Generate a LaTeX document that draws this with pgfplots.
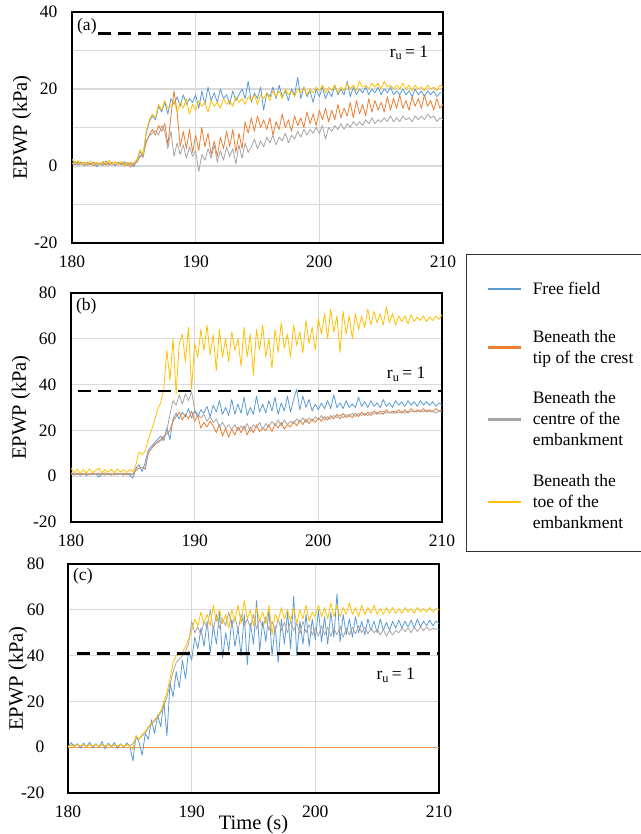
\documentclass[border=0pt]{standalone}
\usepackage{pgfplots}
\pgfplotsset{compat=1.18}
\usepackage{pgfplotstable}
\usepackage{fontspec}
\setmainfont{Liberation Serif}
\definecolor{cblue}{HTML}{5B9BD5}
\definecolor{corange}{HTML}{ED7D31}
\definecolor{cgray}{HTML}{A5A5A5}
\definecolor{cyellow}{HTML}{FFC000}
\definecolor{gridgray}{HTML}{D9D9D9}
\newcommand{\tickfont}{\fontsize{17.5}{21}\selectfont}
\newcommand{\labfont}{\fontsize{20.5}{24}\selectfont}

\pgfplotstableread{
t b o g y
180.00 0.5 0.8 0.6 1.8
180.25 1.2 0.3 0.9 0.6
180.50 0.2 1.0 0.4 1.4
180.75 0.9 0.5 1.1 0.3
181.00 0.1 0.9 0.2 1.1
181.25 1.0 0.2 0.8 0.4
181.50 0.3 0.7 0.3 1.3
181.75 1.1 0.1 0.9 0.5
182.00 -0.2 0.8 0.2 1.0
182.25 0.8 0.4 0.7 0.2
182.50 0.4 1.1 0.1 1.2
182.75 1.3 0.2 0.8 0.6
183.00 0.2 0.9 0.3 1.5
183.25 0.9 0.3 1.0 0.3
183.50 0.0 1.0 0.2 1.1
183.75 1.0 0.4 0.9 0.5
184.00 0.3 0.8 0.3 1.2
184.25 1.1 0.0 0.8 0.2
184.50 0.2 0.9 0.4 1.0
184.75 0.8 -0.3 1.0 0.4
185.00 -0.2 0.6 0.3 0.9
185.25 1.5 1.0 1.2 1.6
185.50 3.8 2.5 2.8 4.2
185.75 2.5 3.2 2.2 3.0
186.00 8.5 6.0 6.5 9.0
186.25 11.5 8.0 7.8 12.0
186.50 13.0 9.5 8.5 13.5
186.75 12.0 8.0 9.2 12.5
187.00 15.5 10.5 8.0 16.0
187.25 14.0 9.0 10.5 14.5
187.50 16.5 11.0 9.0 17.0
187.75 13.5 5.5 4.5 15.0
188.00 17.5 13.0 9.0 15.5
188.25 16.0 19.5 2.5 17.0
188.50 18.0 14.0 6.0 14.0
188.75 15.5 5.0 3.0 16.5
189.00 18.5 9.0 5.5 15.0
189.25 16.0 4.5 2.0 17.5
189.50 17.5 9.5 5.0 13.5
189.75 16.5 3.5 2.5 16.0
190.00 18.5 8.0 4.0 14.5
190.25 15.0 4.0 -1.5 17.0
190.50 19.5 10.0 3.0 15.5
190.75 16.0 5.0 1.5 16.5
191.00 20.5 8.5 4.5 14.0
191.25 17.0 3.0 2.0 17.0
191.50 19.0 6.5 5.5 15.5
191.75 16.5 2.5 1.0 16.5
192.00 20.0 7.5 4.0 15.0
192.25 17.5 4.5 1.5 17.5
192.50 18.5 9.0 5.0 16.0
192.75 16.0 5.0 2.5 17.0
193.00 19.5 9.5 4.5 15.5
193.25 17.0 3.5 0.5 18.0
193.50 18.5 8.5 5.5 16.5
193.75 20.0 4.5 2.0 17.5
194.00 17.5 11.5 6.0 16.0
194.25 22.0 8.5 3.5 18.0
194.50 16.5 12.5 5.0 17.0
194.75 19.0 9.0 7.0 18.5
195.00 17.5 13.0 4.5 16.0
195.25 20.5 10.0 6.5 18.5
195.50 14.5 12.0 5.0 17.5
195.75 19.0 9.5 7.5 19.0
196.00 18.0 12.5 6.0 17.0
196.25 20.5 8.0 8.0 19.5
196.50 17.5 11.5 5.5 18.0
196.75 21.0 9.5 7.5 19.5
197.00 18.0 13.5 6.5 17.5
197.25 19.5 10.0 8.5 20.0
197.50 17.0 12.0 6.0 18.5
197.75 20.0 9.0 8.0 19.5
198.00 18.5 13.0 7.0 18.0
198.25 23.0 10.5 9.0 20.0
198.50 17.5 12.5 7.5 19.0
198.75 20.5 10.0 9.5 20.5
199.00 18.0 14.0 8.0 18.5
199.25 19.5 11.0 9.5 20.0
199.50 16.5 13.5 8.5 19.0
199.75 20.0 10.5 10.0 20.5
200.00 18.0 14.5 8.5 19.5
200.25 20.5 12.0 10.5 21.0
200.50 17.5 15.0 7.0 19.0
200.75 19.5 11.5 10.0 20.5
201.00 18.0 14.5 9.0 19.5
201.25 21.0 12.0 10.5 21.0
201.50 18.5 16.0 9.5 19.0
201.75 20.0 12.5 11.0 20.5
202.00 18.5 15.0 9.5 19.5
202.25 22.0 13.0 11.0 21.5
202.50 18.0 16.5 10.0 20.0
202.75 20.5 12.5 11.5 21.0
203.00 18.5 17.0 10.5 19.5
203.25 20.0 13.5 11.5 22.0
203.50 19.0 16.0 10.5 20.5
203.75 20.5 13.0 12.0 21.0
204.00 18.5 17.5 11.0 20.0
204.25 20.0 14.0 12.5 21.5
204.50 19.0 17.0 11.0 20.5
204.75 20.5 14.5 12.0 21.5
205.00 18.5 16.5 11.5 20.0
205.25 20.0 14.0 12.5 22.0
205.50 19.0 18.0 11.5 20.5
205.75 20.5 14.5 13.0 21.0
206.00 18.5 17.5 11.5 20.0
206.25 19.5 15.0 12.5 21.0
206.50 18.5 18.5 11.5 20.0
206.75 20.0 15.0 13.0 21.5
207.00 18.5 17.0 12.0 20.0
207.25 19.5 14.5 12.5 21.0
207.50 18.0 18.0 11.5 19.5
207.75 20.0 15.5 13.0 21.0
208.00 18.5 17.5 12.0 20.0
208.25 19.5 15.0 13.0 20.5
208.50 18.0 18.5 12.0 19.5
208.75 19.5 15.5 13.5 21.0
209.00 18.5 17.0 12.5 20.0
209.25 19.5 14.5 13.0 20.5
209.50 18.0 17.5 11.5 19.5
209.75 19.0 15.0 12.5 21.0
210.00 19.0 16.0 12.0 20.5
}\dataA

\pgfplotstableread{
t b o g y
180.00 1.0 1.5 1.2 3.5
180.25 0.5 1.0 0.8 1.5
180.50 1.2 0.6 1.4 3.0
180.75 0.4 1.3 0.5 1.2
181.00 1.0 0.7 1.2 2.8
181.25 0.3 1.2 0.6 1.4
181.50 1.1 0.5 1.3 3.2
181.75 0.6 1.4 0.7 1.6
182.00 1.2 0.8 1.1 2.5
182.25 -0.5 1.3 0.6 3.5
182.50 1.0 0.6 1.2 1.5
182.75 0.5 1.5 0.5 2.8
183.00 1.3 0.7 1.3 1.8
183.25 0.4 1.2 0.6 3.0
183.50 1.1 0.5 1.2 1.5
183.75 0.6 1.4 0.8 3.2
184.00 1.2 0.8 1.1 1.8
184.25 0.4 1.3 0.5 2.8
184.50 1.0 0.6 1.3 1.6
184.75 0.5 1.2 0.7 3.0
185.00 -0.8 0.7 1.0 2.0
185.25 3.5 2.5 3.0 5.0
185.50 5.0 3.5 3.5 10.5
185.75 2.0 4.0 3.8 9.5
186.00 6.0 3.0 3.5 11.0
186.25 11.5 10.0 10.5 16.0
186.50 13.0 12.0 12.0 20.0
186.75 14.5 13.5 14.0 24.0
187.00 16.0 15.0 14.5 29.0
187.25 17.5 16.0 15.5 32.0
187.50 15.5 17.5 16.5 38.0
187.75 21.0 18.5 20.0 55.0
188.00 16.0 20.0 27.0 42.0
188.25 25.0 24.0 33.0 60.0
188.50 27.5 26.0 31.0 36.0
188.75 25.0 28.0 35.5 58.0
189.00 28.0 24.5 31.5 62.0
189.25 26.0 27.0 36.0 50.0
189.50 29.5 25.0 33.0 65.0
189.75 25.5 28.5 37.0 38.0
190.00 28.5 24.0 29.0 58.0
190.25 26.0 26.5 27.0 52.0
190.50 29.0 21.0 25.5 64.0
190.75 27.5 23.5 27.0 55.0
191.00 30.5 21.5 24.0 66.0
191.25 26.0 24.0 26.0 53.0
191.50 31.0 22.0 23.5 62.0
191.75 28.0 19.0 25.0 46.0
192.00 33.0 22.5 21.5 64.0
192.25 27.0 17.5 23.5 52.0
192.50 30.0 21.0 21.0 60.0
192.75 26.5 17.0 22.5 50.0
193.00 33.5 20.5 20.5 63.0
193.25 27.0 18.0 22.5 55.0
193.50 31.5 21.5 20.0 60.0
193.75 27.5 19.0 22.0 48.0
194.00 34.5 22.0 20.5 65.0
194.25 26.5 18.0 23.0 52.0
194.50 30.0 21.5 19.5 62.0
194.75 27.0 19.0 22.5 44.0
195.00 35.0 22.5 21.0 64.0
195.25 28.0 19.5 23.5 55.0
195.50 31.5 21.0 20.5 66.0
195.75 27.5 20.0 23.0 52.0
196.00 33.0 22.5 21.5 60.0
196.25 28.5 19.5 24.0 47.0
196.50 34.5 23.0 22.0 64.0
196.75 27.0 21.0 24.5 54.0
197.00 32.0 23.5 22.0 67.0
197.25 28.5 20.5 24.5 56.0
197.50 35.0 22.5 22.5 62.0
197.75 28.0 21.5 24.0 52.0
198.00 33.5 24.0 23.0 66.0
198.25 38.0 22.0 25.0 57.0
198.50 29.0 24.5 23.5 63.0
198.75 35.0 22.5 25.5 54.0
199.00 30.0 25.0 23.5 68.0
199.25 33.5 23.0 25.5 58.0
199.50 28.5 25.0 24.0 65.0
199.75 31.5 23.5 26.0 55.0
200.00 29.0 25.5 24.5 69.0
200.25 32.0 24.0 26.5 62.0
200.50 29.5 26.0 24.5 71.0
200.75 33.0 24.5 26.0 60.0
201.00 29.5 26.5 25.0 73.0
201.25 35.5 25.0 26.5 63.0
201.50 30.0 27.0 25.5 70.0
201.75 32.0 25.0 27.0 54.0
202.00 29.5 27.5 25.5 72.0
202.25 33.0 25.5 27.0 62.0
202.50 30.0 27.0 26.0 70.0
202.75 31.5 25.5 27.5 60.0
203.00 30.0 27.5 26.0 71.0
203.25 34.5 26.0 27.5 64.0
203.50 30.5 28.0 26.5 70.0
203.75 32.5 26.5 27.5 65.0
204.00 30.0 28.0 26.5 73.0
204.25 33.0 26.5 28.0 66.0
204.50 30.5 28.5 27.0 72.0
204.75 32.0 27.0 28.0 67.0
205.00 30.0 28.5 27.0 71.0
205.25 33.5 27.0 28.5 66.0
205.50 30.5 29.0 27.5 74.0
205.75 32.0 27.5 28.0 67.0
206.00 30.0 28.5 27.5 71.0
206.25 33.0 27.5 28.5 66.0
206.50 31.0 29.0 27.5 70.0
206.75 32.5 27.5 28.5 67.5
207.00 30.5 29.0 27.5 70.0
207.25 33.0 27.5 28.5 66.5
207.50 31.0 29.5 28.0 70.5
207.75 32.5 28.0 28.5 67.5
208.00 30.5 29.0 28.0 69.5
208.25 33.0 28.0 29.0 68.0
208.50 31.0 29.5 28.0 70.0
208.75 32.5 28.0 29.0 67.5
209.00 31.0 29.0 28.0 69.5
209.25 32.5 28.0 28.5 68.0
209.50 30.5 29.5 27.5 70.0
209.75 32.0 28.5 28.5 68.5
210.00 31.0 29.0 28.0 70.5
}\dataB

\pgfplotstableread{
t b g y
180.00 0.0 0.5 0.2
180.25 2.0 1.0 1.0
180.50 0.5 0.4 0.3
180.75 1.5 1.2 1.2
181.00 -0.5 0.6 0.4
181.25 1.8 1.0 1.3
181.50 0.2 0.3 0.2
181.75 2.2 1.1 1.0
182.00 -0.3 0.5 0.5
182.25 1.5 1.2 1.4
182.50 0.0 0.4 0.3
182.75 2.5 1.0 1.1
183.00 -0.8 0.6 0.4
183.25 1.8 1.2 1.2
183.50 0.2 0.3 0.2
183.75 2.0 1.0 1.0
184.00 -0.5 0.5 0.4
184.25 1.5 1.1 1.3
184.50 0.0 0.4 0.3
184.75 1.8 1.0 1.2
185.00 0.5 0.8 0.5
185.25 -6.0 1.5 -1.0
185.50 5.0 4.0 5.0
185.75 2.0 3.5 3.5
186.00 -3.5 5.0 5.5
186.25 6.0 6.0 7.0
186.50 3.5 8.5 9.0
186.75 12.0 10.0 10.5
187.00 6.0 11.5 12.0
187.25 14.0 13.0 13.5
187.50 9.0 15.0 16.0
187.75 20.0 18.0 19.5
188.00 5.0 22.0 24.0
188.25 28.0 27.5 30.0
188.50 22.0 33.0 37.0
188.75 33.0 37.0 40.0
189.00 26.0 38.5 40.5
189.25 38.0 40.0 41.5
189.50 30.0 42.0 44.0
189.75 42.0 45.0 47.0
190.00 38.0 55.0 51.0
190.25 48.0 50.0 56.0
190.50 43.0 52.5 53.0
190.75 52.0 49.0 59.0
191.00 44.0 55.0 54.0
191.25 55.0 52.0 58.0
191.50 41.0 60.0 53.0
191.75 53.0 51.0 62.0
192.00 45.0 58.0 55.0
192.25 59.0 52.0 60.0
192.50 39.0 56.0 54.0
192.75 50.0 53.0 58.0
193.00 42.0 59.0 52.0
193.25 56.0 52.5 60.0
193.50 44.0 57.0 55.0
193.75 52.0 51.0 62.0
194.00 40.0 58.0 54.0
194.25 58.0 53.0 64.0
194.50 36.0 56.0 56.0
194.75 54.0 52.0 60.0
195.00 45.0 58.0 53.0
195.25 64.0 51.5 61.0
195.50 42.0 56.0 55.0
195.75 55.0 52.0 59.0
196.00 46.0 57.0 54.0
196.25 60.0 51.0 62.0
196.50 40.0 55.0 49.0
196.75 53.0 50.5 58.0
197.00 37.0 56.0 55.0
197.25 56.0 51.0 61.0
197.50 45.0 54.5 56.0
197.75 59.0 50.0 60.0
198.00 43.0 55.0 55.0
198.25 66.0 51.0 61.0
198.50 40.0 54.0 54.0
198.75 55.0 49.5 60.0
199.00 45.0 55.0 56.0
199.25 58.0 50.0 62.0
199.50 44.0 53.5 55.0
199.75 56.0 49.0 59.0
200.00 47.0 52.0 57.0
200.25 60.0 48.5 62.0
200.50 46.0 53.0 57.0
200.75 57.0 49.0 61.0
201.00 45.0 52.5 56.0
201.25 59.0 48.5 63.0
201.50 48.0 52.0 57.0
201.75 67.0 49.0 62.0
202.00 46.0 53.0 57.0
202.25 58.0 48.0 61.0
202.50 49.0 52.0 58.0
202.75 56.0 49.0 63.0
203.00 48.0 52.5 58.0
203.25 57.0 49.5 61.0
203.50 50.0 53.0 57.0
203.75 55.0 50.0 62.0
204.00 49.0 52.5 58.0
204.25 56.0 49.5 61.0
204.50 51.0 52.0 58.5
204.75 55.0 50.0 62.0
205.00 50.0 51.5 58.0
205.25 56.0 49.0 60.5
205.50 51.0 51.5 58.0
205.75 54.5 48.5 61.0
206.00 51.0 51.0 58.5
206.25 55.0 49.0 61.0
206.50 52.0 51.0 58.5
206.75 55.5 50.0 60.5
207.00 52.0 52.0 58.5
207.25 55.0 50.5 61.0
207.50 52.5 52.0 59.0
207.75 55.5 50.0 60.5
208.00 52.0 52.5 58.5
208.25 56.0 50.5 61.0
208.50 52.5 52.5 59.0
208.75 55.0 51.0 60.5
209.00 53.0 52.5 59.0
209.25 55.5 51.0 61.0
209.50 53.0 52.0 59.0
209.75 55.0 51.5 60.5
210.00 54.0 51.5 60.0
}\dataC

\pgfplotsset{
  panel/.style={
    scale only axis, width=371pt,
    xmin=180, xmax=210, xtick={180,190,200,210},
    axis line style={line width=1.5pt, black},
    grid=both,
    major grid style={line width=1.2pt, color=gridgray},
    minor grid style={line width=1.2pt, color=gridgray},
    tick style={draw=none},
    major tick length=0pt, minor tick length=0pt,
    ticklabel style={font=\tickfont},
    /pgf/number format/assume math mode=true,
    xticklabel style={yshift=-9pt},
    yticklabel style={xshift=-11pt},
    ylabel={EPWP (kPa)},
    every axis y label/.style={at={(axis description cs:-0.135,0.5)}, rotate=90, anchor=center, font=\labfont},
    every axis plot/.append style={line join=round},
  },
  sb/.style={cblue, line width=0.8pt},
  so/.style={corange, line width=0.8pt},
  sg/.style={cgray, line width=0.8pt},
  sy/.style={cyellow, line width=0.8pt},
  ru/.style={black, line width=2.8pt, dash pattern=on 13pt off 7pt},
  legline/.style={legend image code/.code={\draw[##1, line width=2.4pt] (0pt,0pt) -- (33pt,0pt);}},
  leglinetall/.style={legend image code/.code={\draw[##1, line width=2.4pt] (0pt,0pt) -- (33pt,0pt); \path[draw=none, fill=none] (0pt,-16pt) -- (0pt,16pt);}},
}

\begin{document}
\begin{tikzpicture}
\useasboundingbox (0,0) rectangle (640pt,834pt);

% Panel (a)
\begin{axis}[panel, at={(72pt,591pt)}, anchor=south west, height=231pt,
  ymin=-20, ymax=40, ytick={-20,0,20,40}, minor ytick={-10,10,30}]
\addplot[sb] table[x=t,y=b]{\dataA};
\addplot[so] table[x=t,y=o]{\dataA};
\addplot[sg] table[x=t,y=g]{\dataA};
\addplot[sy] table[x=t,y=y]{\dataA};
\addplot[ru] coordinates {(182.1,34.5) (210,34.5)};
\node[anchor=west, inner sep=2pt, font=\tickfont] at (rel axis cs:0.008,0.939) {(a)};
\node[font=\tickfont] at (axis cs:207.25,29.4) {r\textsubscript{u}\,= 1};
\end{axis}

% Panel (b)
\begin{axis}[panel, at={(71pt,312pt)}, anchor=south west, height=229pt,
  ymin=-20, ymax=80, ytick={-20,0,20,40,60,80},
  legend style={at={(1.0647,1.171)}, anchor=north west, draw=black!80, line width=0.7pt,
    font=\tickfont, inner xsep=20pt, inner ysep=19pt, row sep=23pt,
    cells={anchor=west, align=left}, /tikz/every odd column/.append style={column sep=9pt}},
  legline]
\addplot[sb, leglinetall] table[x=t,y=b]{\dataB};
\addlegendentry{Free field}
\addplot[so] table[x=t,y=o]{\dataB};
\addlegendentry{Beneath the\\tip of the crest}
\addplot[sg] table[x=t,y=g]{\dataB};
\addlegendentry{Beneath the\\centre of the\\embankment}
\addplot[sy] table[x=t,y=y]{\dataB};
\addlegendentry{Beneath the\\toe of the\\embankment}
\addplot[ru, forget plot] coordinates {(180.6,37.2) (210,37.2)};
\node[anchor=west, inner sep=2pt, font=\tickfont] at (rel axis cs:0.008,0.943) {(b)};
\node[font=\tickfont] at (axis cs:207.1,44.6) {r\textsubscript{u}\,= 1};
\end{axis}

% Panel (c)
\begin{axis}[panel, at={(68pt,41pt)}, anchor=south west, height=229pt,
  ymin=-20, ymax=80, ytick={-20,0,20,40,60,80},
  yticklabel style={xshift=-9pt},
  xlabel={Time (s)},
  every axis x label/.style={at={(axis description cs:0.5,-0.14)}, anchor=center, font=\labfont}]
\addplot[corange!80!white, line width=1.3pt] coordinates {(180,0) (210,0)};
\addplot[sb] table[x=t,y=b]{\dataC};
\addplot[sg] table[x=t,y=g]{\dataC};
\addplot[sy] table[x=t,y=y]{\dataC};
\addplot[ru] coordinates {(180.7,41) (210,41)};
\node[anchor=west, inner sep=2pt, font=\tickfont] at (rel axis cs:0.008,0.948) {(c)};
\node[font=\tickfont] at (axis cs:206.5,31.5) {r\textsubscript{u}\,= 1};
\end{axis}
\end{tikzpicture}
\end{document}
